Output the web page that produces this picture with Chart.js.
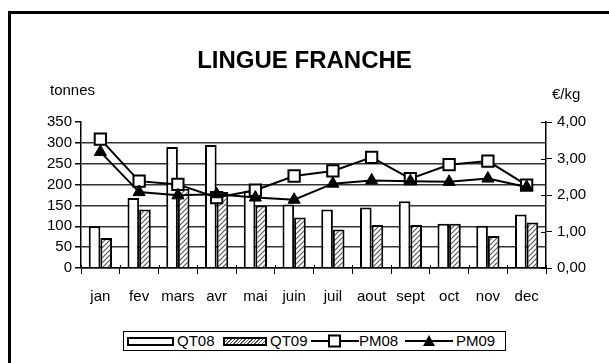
<!DOCTYPE html>
<html><head><meta charset="utf-8">
<script src="https://cdn.jsdelivr.net/npm/chart.js@4/dist/chart.umd.min.js"></script>
<style>
html,body{margin:0;padding:0;background:#fff;}
#wrap{position:relative;width:609px;height:363px;overflow:hidden;font-family:"Liberation Sans",Arial,sans-serif;color:#000;}
#frame{position:absolute;left:8px;top:11px;width:640px;height:400px;border-left:3px solid #000;border-top:3px solid #000;}
canvas{position:absolute;left:0;top:0;}
.t{position:absolute;white-space:nowrap;}
#title{left:0;width:609px;text-align:center;top:46px;font-size:24px;font-weight:bold;}
#lunit{left:50px;top:81px;font-size:15px;}
#runit{left:552px;top:85px;font-size:15px;}
#legend{position:absolute;left:123px;top:331px;width:381px;height:18px;border:1px solid #000;background:#fff;font-size:15px;}
#legend .sw{position:absolute;top:5px;height:5px;border:2px solid #000;}
#legend .lt{position:absolute;top:0px;line-height:18px;}
#legend svg{position:absolute;top:0;}
</style></head>
<body>
<div id="wrap">
<div id="frame"></div>
<canvas id="c" width="609" height="363"></canvas>
<div class="t" id="title">LINGUE FRANCHE</div>
<div class="t" id="lunit">tonnes</div>
<div class="t" id="runit">€/kg</div>
<div id="legend">
  <div class="sw" style="left:3px;width:43px;background:#fff;"></div>
  <div class="lt" style="left:53px;">QT08</div>
  <div class="sw" style="left:99px;width:40px;background:repeating-linear-gradient(135deg,#fff 0 1.5px,#555 1.5px 2.5px);"></div>
  <div class="lt" style="left:146px;">QT09</div>
  <svg style="left:187px;" width="48" height="18"><line x1="0" y1="9" x2="48" y2="9" stroke="#000" stroke-width="2"/><rect x="18" y="3.5" width="11" height="11" fill="#fff" stroke="#000" stroke-width="2"/></svg>
  <div class="lt" style="left:235px;">PM08</div>
  <svg style="left:281px;" width="48" height="18"><line x1="0" y1="9" x2="48" y2="9" stroke="#000" stroke-width="2"/><polygon points="24,3 30,14 18,14" fill="#000"/></svg>
  <div class="lt" style="left:332px;">PM09</div>
</div>
</div>
<script>
const categories = ["jan","fev","mars","avr","mai","juin","juil","aout","sept","oct","nov","dec"];
const qt08 = [100,168,290,295,185,152,140,145,160,106,101,128];
const qt09 = [72,140,190,182,150,121,92,103,103,106,77,109];
const pm08 = [3.53,2.38,2.29,1.93,2.13,2.52,2.66,3.03,2.45,2.83,2.93,2.27];
const pm09 = [3.18,2.08,1.99,2.02,1.93,1.87,2.31,2.40,2.38,2.36,2.45,2.22];
const leftTicks = [0,50,100,150,200,250,300,350];
const rightTicks = [0,1,2,3,4];

function hatch(){
  const c=document.createElement('canvas');c.width=5;c.height=5;
  const x=c.getContext('2d');
  x.fillStyle='#fff';x.fillRect(0,0,5,5);
  x.strokeStyle='#555';x.lineWidth=1.1;
  x.beginPath();x.moveTo(0,5);x.lineTo(5,0);x.moveTo(-1,1);x.lineTo(1,-1);x.moveTo(4,6);x.lineTo(6,4);x.stroke();
  return x.createPattern(c,'repeat');
}
// small plugin: make right-axis tick marks cross the axis line
const crossTicks={id:'crossTicks',afterDraw(chart){
  const s=chart.scales.y1,c=chart.ctx;c.save();c.strokeStyle='#000';c.lineWidth=1;
  s.ticks.forEach(t=>{const y=Math.round(s.getPixelForValue(t.value))+0.5;c.beginPath();c.moveTo(s.left-5,y);c.lineTo(s.left,y);c.stroke();});
  const x=chart.scales.x,b=x.top;
  for(let i=0;i<=categories.length;i++){const px=Math.round(x.getPixelForTick(0)+(i-0.5)*(x.getPixelForTick(1)-x.getPixelForTick(0)))+0.5;c.beginPath();c.moveTo(px,b-3);c.lineTo(px,b);c.stroke();}
  c.restore();}};
const ctx=document.getElementById('c').getContext('2d');
const font={family:'"Liberation Sans", Arial, sans-serif',size:15};
new Chart(ctx,{
  plugins:[crossTicks],
  data:{labels:categories,datasets:[
    {type:'line',label:'PM08',data:pm08,yAxisID:'y1',order:1,borderColor:'#000',borderWidth:2,tension:0,
     pointStyle:'rect',pointRadius:8,pointBackgroundColor:'#fff',pointBorderColor:'#000',pointBorderWidth:2},
    {type:'line',label:'PM09',data:pm09,yAxisID:'y1',order:0,borderColor:'#000',borderWidth:2,tension:0,
     pointStyle:'triangle',pointRadius:7,pointBackgroundColor:'#000',pointBorderColor:'#000',pointBorderWidth:1},
    {type:'bar',label:'QT08',data:qt08,yAxisID:'y',order:3,backgroundColor:'#fff',borderColor:'#000',borderWidth:2,
     barPercentage:1,categoryPercentage:0.6},
    {type:'bar',label:'QT09',data:qt09,yAxisID:'y',order:3,backgroundColor:hatch(),borderColor:'#000',borderWidth:2,
     barPercentage:1,categoryPercentage:0.6}
  ]},
  options:{
    responsive:false,animation:false,
    layout:{padding:{top:122,left:0,right:0,bottom:0}},
    plugins:{legend:{display:false},tooltip:{enabled:false},title:{display:false}},
    scales:{
      x:{offset:true,grid:{drawOnChartArea:false,tickLength:6,color:'#000',lineWidth:1},
         border:{color:'#000',width:1.5},
         ticks:{color:'#000',font:font,padding:14,maxRotation:0,autoSkip:false},
         afterFit:s=>{s.height=95;}},
      y:{position:'left',min:0,max:350,
         afterBuildTicks:s=>{s.ticks=leftTicks.map(v=>({value:v}));},
         grid:{color:c=>(c.tick&&c.tick.value===350)?'rgba(0,0,0,0)':'#333',lineWidth:1.5,tickLength:6,tickColor:'#000'},
         border:{color:'#000',width:1.5},
         ticks:{color:'#000',font:font,padding:3,autoSkip:false},
         afterFit:s=>{s.width=81;}},
      y1:{position:'right',min:0,max:4,
         afterBuildTicks:s=>{s.ticks=rightTicks.map(v=>({value:v}));},
         grid:{drawOnChartArea:false,tickLength:6,color:'#000'},
         border:{color:'#000',width:1.5},
         ticks:{color:'#000',font:font,padding:5,autoSkip:false,callback:v=>Number(v).toFixed(2).replace('.',',')},
         afterFit:s=>{s.width=63;}}
    }
  }
});
</script>
</body></html>
